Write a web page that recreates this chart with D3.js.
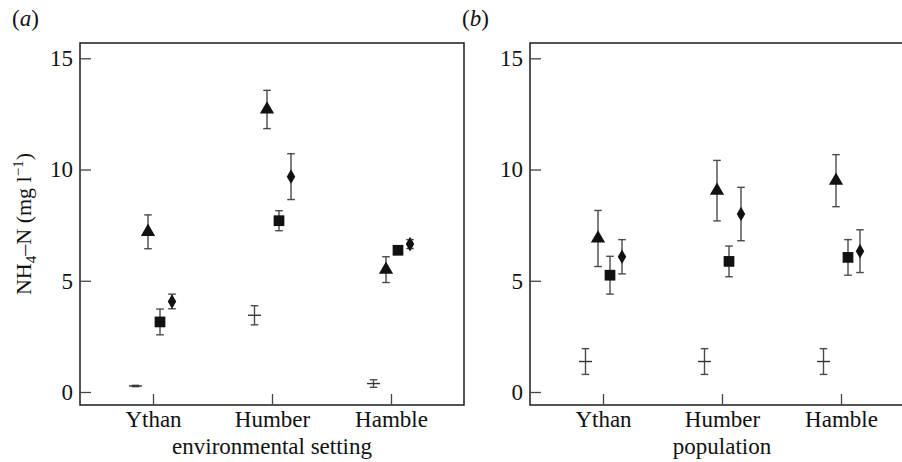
<!DOCTYPE html>
<html>
<head>
<meta charset="utf-8">
<script src="https://cdn.jsdelivr.net/npm/d3@7"></script>
<style>
  html, body { margin: 0; padding: 0; background: #fff; }
  svg { display: block; }
  text { font-family: "Liberation Serif", "Times New Roman", serif; fill: #111; }
</style>
</head>
<body>
<svg id="chart" width="902" height="462"></svg>
<script>
// Sites along the x axis
const sites = ["Ythan", "Humber", "Hamble"];
const yTicks = [0, 5, 10, 15];

// Panel (a): environmental setting — mean NH4-N and error half-widths
const aCrossMean = [0.27, 3.45, 0.38];
const aCrossErr  = [0.03, 0.43, 0.17];
const aTriMean   = [7.2, 12.7, 5.5];
const aTriErr    = [0.76, 0.86, 0.58];
const aSqMean    = [3.15, 7.7, 6.37];
const aSqErr     = [0.58, 0.45, 0.06];
const aDiaMean   = [4.07, 9.68, 6.65];
const aDiaErr    = [0.33, 1.03, 0.2];

// Panel (b): population
const bCrossMean = [1.37, 1.37, 1.37];
const bCrossErr  = [0.58, 0.58, 0.58];
const bTriMean   = [6.9, 9.05, 9.5];
const bTriErr    = [1.26, 1.36, 1.17];
const bSqMean    = [5.25, 5.87, 6.05];
const bSqErr     = [0.85, 0.69, 0.8];
const bDiaMean   = [6.08, 8.0, 6.33];
const bDiaErr    = [0.77, 1.2, 0.96];

const panels = [
  { tag: "a", xLabel: "environmental setting", left: 80, right: 464,
    series: [
      { shape: "cross",    mean: aCrossMean, err: aCrossErr },
      { shape: "triangle", mean: aTriMean,   err: aTriErr },
      { shape: "square",   mean: aSqMean,    err: aSqErr },
      { shape: "diamond",  mean: aDiaMean,   err: aDiaErr }
    ] },
  { tag: "b", xLabel: "population", left: 530, right: 914,
    series: [
      { shape: "cross",    mean: bCrossMean, err: bCrossErr },
      { shape: "triangle", mean: bTriMean,   err: bTriErr },
      { shape: "square",   mean: bSqMean,    err: bSqErr },
      { shape: "diamond",  mean: bDiaMean,   err: bDiaErr }
    ] }
];

const frameTop = 43, frameBottom = 405;
const fontSize = 23;
const shapeOffset = { cross: -17.5, triangle: -5, square: 7, diamond: 19 };
const symbolFor = {
  triangle: d3.symbol().type(d3.symbolTriangle).size(88),
  square:   d3.symbol().type(d3.symbolSquare).size(115),
  diamond:  d3.symbol().type(d3.symbolDiamond).size(62)
};

const svg = d3.select("#chart");
const y = d3.scaleLinear().domain([0, 15]).range([392, 58.3]);

panels.forEach(p => {
  const g = svg.append("g");
  const x = d3.scalePoint().domain(sites)
    .range([p.left + 73, p.left + 311]);

  // frame
  g.append("rect")
    .attr("x", p.left).attr("y", frameTop)
    .attr("width", p.right - p.left).attr("height", frameBottom - frameTop)
    .attr("fill", "none").attr("stroke", "#2a2a2a").attr("stroke-width", 1.6);

  // y axis with inward ticks
  const yAxis = g.append("g").attr("transform", `translate(${p.left},0)`)
    .call(d3.axisLeft(y).tickValues(yTicks).tickSizeInner(-11).tickSizeOuter(0).tickPadding(7));
  yAxis.select(".domain").remove();
  yAxis.selectAll(".tick line").attr("stroke", "#444").attr("stroke-width", 1.3);
  yAxis.selectAll(".tick text").attr("font-size", fontSize).attr("fill", "#111");

  // x axis with inward ticks
  const xAxis = g.append("g").attr("transform", `translate(0,${frameBottom})`)
    .call(d3.axisBottom(x).tickSizeInner(-11).tickSizeOuter(0).tickPadding(6));
  xAxis.select(".domain").remove();
  xAxis.selectAll(".tick line").attr("stroke", "#444").attr("stroke-width", 1.3);
  xAxis.selectAll(".tick text").attr("font-size", fontSize).attr("fill", "#111");

  // x axis title
  g.append("text")
    .attr("x", x("Humber")).attr("y", 454)
    .attr("text-anchor", "middle").attr("font-size", fontSize)
    .text(p.xLabel);

  // panel tag
  const tag = g.append("text").attr("x", p.left - 68).attr("y", 26).attr("font-size", fontSize);
  tag.append("tspan").text("(");
  tag.append("tspan").attr("font-style", "italic").text(p.tag);
  tag.append("tspan").text(")");

  // error bars and markers
  p.series.forEach(s => {
    sites.forEach((site, i) => {
      const cx = x(site) + shapeOffset[s.shape];
      const m = s.mean[i], e = s.err[i];
      const y0 = y(m - e), y1 = y(m + e);
      const eb = g.append("g").attr("stroke", "#4a4a4a").attr("stroke-width", 1.4);
      eb.append("line").attr("x1", cx).attr("x2", cx).attr("y1", y0).attr("y2", y1);
      eb.append("line").attr("x1", cx - 3.8).attr("x2", cx + 3.8).attr("y1", y0).attr("y2", y0);
      eb.append("line").attr("x1", cx - 3.8).attr("x2", cx + 3.8).attr("y1", y1).attr("y2", y1);
      if (s.shape === "cross") {
        eb.append("line").attr("x1", cx - 6.5).attr("x2", cx + 6.5)
          .attr("y1", y(m)).attr("y2", y(m)).attr("stroke", "#333");
      } else {
        g.append("path")
          .attr("d", symbolFor[s.shape]())
          .attr("transform", `translate(${cx},${y(m)})`)
          .attr("fill", "#111");
      }
    });
  });
});

// y axis title for panel (a)
const yt = svg.append("text")
  .attr("transform", "translate(31,224) rotate(-90)")
  .attr("text-anchor", "middle").attr("font-size", 22);
yt.append("tspan").text("NH");
yt.append("tspan").attr("font-size", 15).attr("dy", 5).text("4");
yt.append("tspan").attr("dy", -5).text("–N (mg l");
yt.append("tspan").attr("font-size", 15).attr("dy", -8).text("−1");
yt.append("tspan").attr("dy", 8).text(")");
</script>
</body>
</html>
